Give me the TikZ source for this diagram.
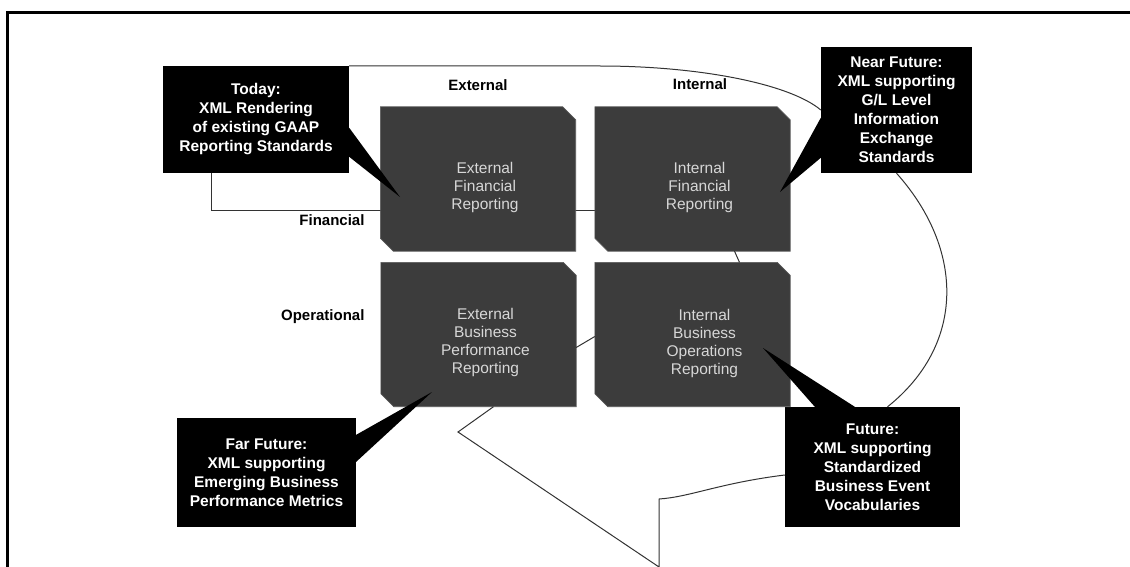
\documentclass[tikz,border=0pt]{standalone}
\usepackage{fontspec}
\setmainfont{Liberation Sans}
\usetikzlibrary{calc}
\definecolor{boxgray}{RGB}{60,60,60}
\definecolor{boxtext}{RGB}{215,215,215}

% 斜角方块
\newcommand{\bevelbox}[1]{%
	\filldraw[fill=boxgray, draw=gray!70!black, line width=0.6pt]
		(#1.north west) -- ([xshift=-13pt]#1.north east) -- ([yshift=-13pt]#1.north east)
		-- (#1.south east) -- ([xshift=13pt]#1.south west) -- ([yshift=13pt]#1.south west) -- cycle;}

\begin{document}
\begin{tikzpicture}[x=1pt, y=-1pt,
	mainbox/.style={rectangle, inner sep=0pt, minimum width=195pt, minimum height=144pt},
	boxlbl/.style={text=boxtext, align=center, font=\fontsize{15.5}{18}\selectfont},
	callout/.style={rectangle, fill=black, text=white, align=center, inner sep=0pt,
		font=\bfseries\fontsize{15.5}{19}\selectfont},
	axislabel/.style={font=\bfseries\fontsize{15}{18}\selectfont},
	bubble/.style={draw=black!80, line width=1pt}]
	
	\useasboundingbox (0,0) rectangle (1130,567);
	
	% 外框
	\draw[line width=3pt] (7,567) -- (7,13) -- (1130,13);
	
	% 四个方块的位置
	\node[mainbox] (extfin) at (478,179) {};
	\node[mainbox] (intfin) at (692.5,179) {};
	\node[mainbox] (extbus) at (478.5,334.5) {};
	\node[mainbox] (intbus) at (692.5,334.5) {};
	
	% 说明框
	\node[callout, minimum width=186pt, minimum height=107pt] (today) at (256,119.5)
		{Today:\\XML Rendering\\of existing GAAP\\Reporting Standards};
	\node[callout, minimum width=151pt, minimum height=126pt] (nearfut) at (896.5,110)
		{Near Future:\\XML supporting\\G/L Level\\Information\\Exchange\\Standards};
	\node[callout, minimum width=179pt, minimum height=109pt] (farfut) at (266.5,472.5)
		{Far Future:\\XML supporting\\Emerging Business\\Performance Metrics};
	\node[callout, minimum width=175pt, minimum height=120pt] (fut) at (872.5,467)
		{Future:\\XML supporting\\Standardized\\Business Event\\Vocabularies};
	
	% Today 下方的折线 (在方块后面)
	\draw[bubble] ([xshift=-45pt]today.south) |- ([yshift=-31pt]intfin.west);
	
	% 方块
	\bevelbox{extfin}
	\bevelbox{intfin}
	\bevelbox{extbus}
	\bevelbox{intbus}
	\node[boxlbl] (extfin-t) at ([shift={(7,8)}]extfin) {External\\Financial\\Reporting};
	\node[boxlbl] (intfin-t) at ([shift={(7,8)}]intfin) {Internal\\Financial\\Reporting};
	\node[boxlbl] (extbus-t) at ([shift={(7,8)}]extbus) {External\\Business\\Performance\\Reporting};
	\node[boxlbl] (intbus-t) at ([shift={(12,9)}]intbus) {Internal\\Business\\Operations\\Reporting};
	
	% 行列标题
	\node[axislabel] (hdext) at (478,85) {External};
	\node[axislabel] (hdint) at (700,84) {Internal};
	\node[axislabel, anchor=east] (rowfin) at (368,220) {Financial};
	\node[axislabel, anchor=east] (rowop) at (368,317) {Operational};
	
	% 指针尖
	\coordinate (tiptoday) at (400,197);
	\coordinate (tipnear) at (780,192);
	\coordinate (tipfar) at (432,392);
	\coordinate (tipfut) at (763,348);
	
	\fill ([yshift=-62pt]today.north east) -- (tiptoday) -- ([yshift=-91pt]today.north east) -- cycle;
	\fill ([yshift=-71pt]nearfut.north west) -- (tipnear) -- ([yshift=-111pt]nearfut.north west) -- cycle;
	\fill ([yshift=-17pt]farfut.north east) -- (tipfar) -- ([yshift=-44pt]farfut.north east) -- cycle;
	\fill ([xshift=30pt]fut.north west) -- (tipfut) -- ([xshift=70pt]fut.north west) -- cycle;
	
	% 气泡轮廓
	\draw[bubble] (today.north east) -- (600,66) .. controls (700,66) and (790,84) .. (nearfut.west);
	\draw[bubble] (nearfut.south) .. controls (965,250) and (965,345) .. ([xshift=15pt]fut.north);
	\draw[bubble] ([yshift=-8pt]fut.west) .. controls (720,483) and (690,497) .. (659,499)
		-- (659,567) -- (458,432) -- ([xshift=15pt]extbus.south);
	\draw[bubble] ([yshift=-13pt]extbus.east) -- ([yshift=-2pt]intbus.west);
	\draw[bubble] ([xshift=42pt]intfin.south) -- ([xshift=47pt]intbus.north);
	
\end{tikzpicture}
\end{document}
